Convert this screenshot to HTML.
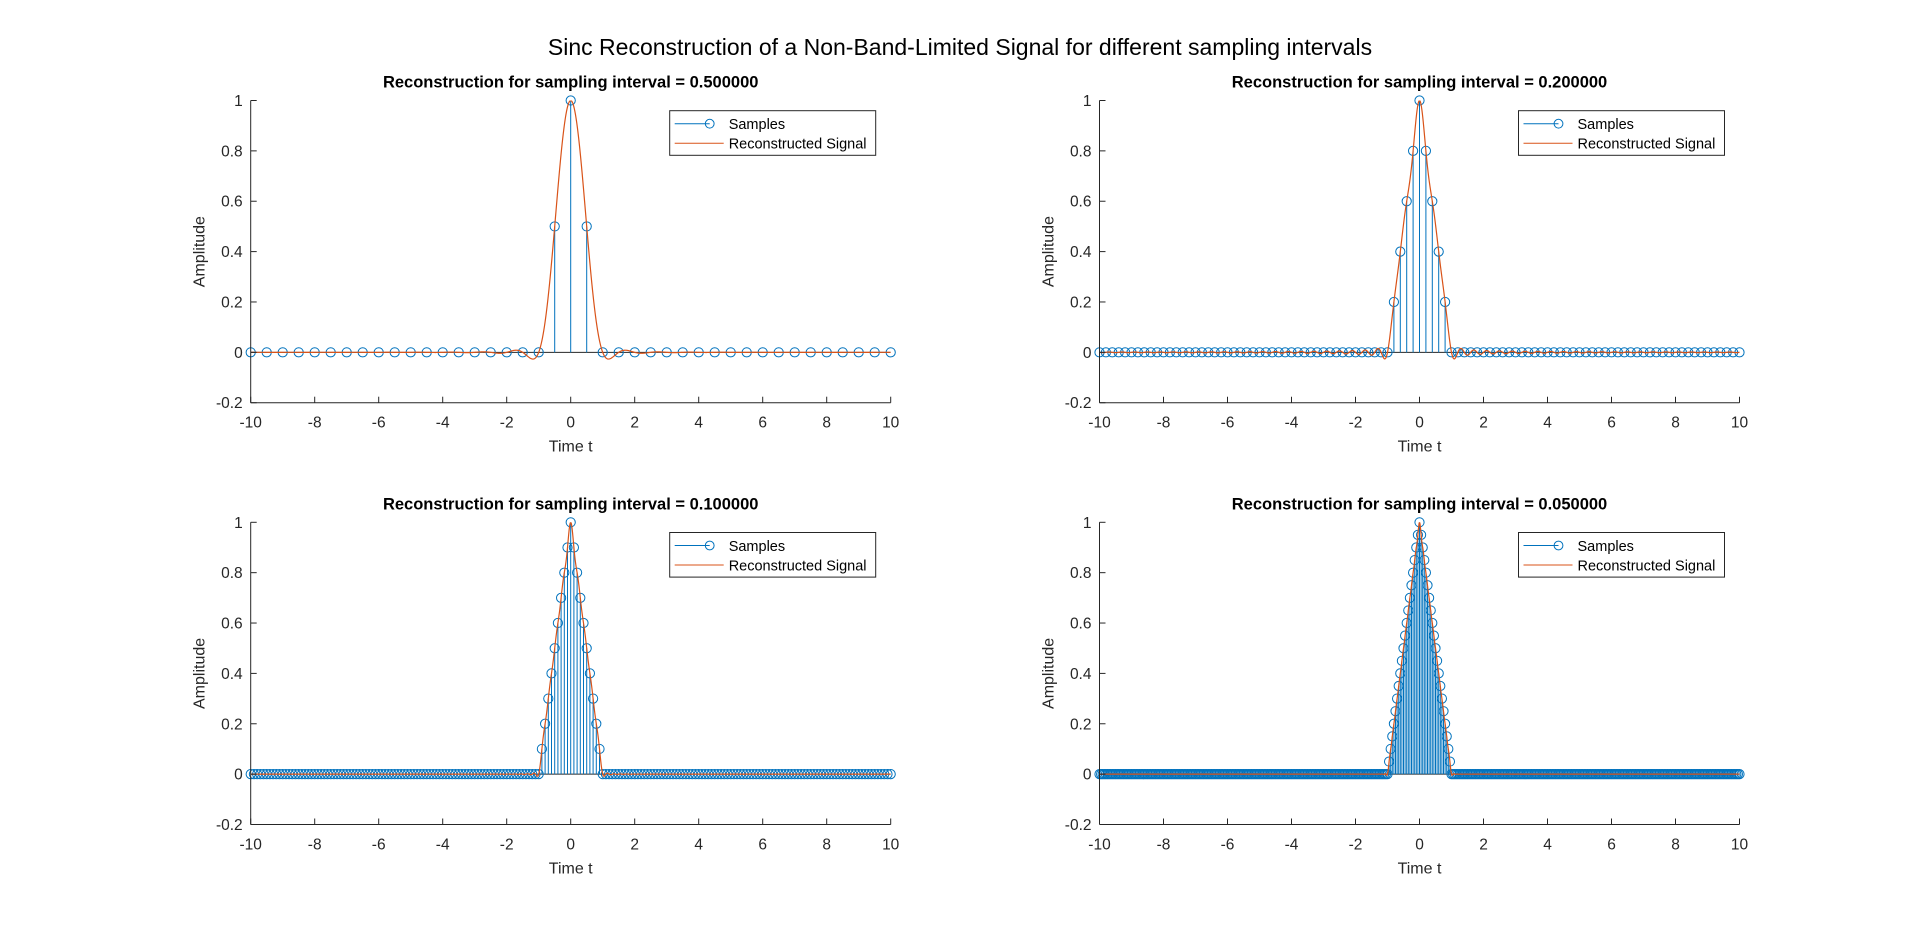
<!DOCTYPE html>
<html><head><meta charset="utf-8"><style>
html,body{margin:0;padding:0;background:#fff;}
svg{display:block;font-family:"Liberation Sans",Arial,sans-serif;}
</style></head><body>
<svg id="fig" width="1920" height="926" viewBox="0 0 1920 926">
<text x="960" y="55" text-anchor="middle" font-size="23" fill="#000">Sinc Reconstruction of a Non-Band-Limited Signal for different sampling intervals</text>
</svg>
<script>
// sampling intervals for each subplot
const intervals = [0.5, 0.2, 0.1, 0.05];
const intervalLabels = ["0.500000", "0.200000", "0.100000", "0.050000"];
// nonzero central samples (centred on t = 0); all other samples are zero
const samplesT05 = [0.5, 1, 0.5];
const samplesT02 = [0.2, 0.4, 0.6, 0.8, 1, 0.8, 0.6, 0.4, 0.2];
const samplesT01 = [0.1, 0.2, 0.3, 0.4, 0.5, 0.6, 0.7, 0.8, 0.9, 1, 0.9, 0.8, 0.7, 0.6, 0.5, 0.4, 0.3, 0.2, 0.1];
const samplesT005 = [0.05, 0.1, 0.15, 0.2, 0.25, 0.3, 0.35, 0.4, 0.45, 0.5, 0.55, 0.6, 0.65, 0.7, 0.75, 0.8, 0.85, 0.9, 0.95, 1, 0.95, 0.9, 0.85, 0.8, 0.75, 0.7, 0.65, 0.6, 0.55, 0.5, 0.45, 0.4, 0.35, 0.3, 0.25, 0.2, 0.15, 0.1, 0.05];
const xTicks = [-10, -8, -6, -4, -2, 0, 2, 4, 6, 8, 10];
const yTicks = [-0.2, 0, 0.2, 0.4, 0.6, 0.8, 1];
const yTickLabels = ["-0.2", "0", "0.2", "0.4", "0.6", "0.8", "1"];
const xRange = [-10, 10];
const yRange = [-0.2, 1];

const centralSets = [samplesT05, samplesT02, samplesT01, samplesT005];
const boxes = [
  {l: 250.7, t: 100.5, w: 640, h: 302.2},
  {l: 1099.5, t: 100.5, w: 640, h: 302.2},
  {l: 250.7, t: 522.3, w: 640, h: 302.2},
  {l: 1099.5, t: 522.3, w: 640, h: 302.2}
];
const NS = "http://www.w3.org/2000/svg";
const svg = document.getElementById('fig');
function mk(tag, attrs, parent) {
  const e = document.createElementNS(NS, tag);
  for (const k in attrs) e.setAttribute(k, attrs[k]);
  (parent || svg).appendChild(e);
  return e;
}
function sinc(x) { return x === 0 ? 1 : Math.sin(Math.PI * x) / (Math.PI * x); }

boxes.forEach((b, i) => {
  const T = intervals[i];
  const xs = v => b.l + (v - xRange[0]) / (xRange[1] - xRange[0]) * b.w;
  const ys = v => b.t + b.h - (v - yRange[0]) / (yRange[1] - yRange[0]) * b.h;
  const g = mk('g', {});
  
  
  const clipId = 'clip' + i;
  const cp = mk('clipPath', {id: clipId}, g);
  mk('rect', {x: b.l, y: b.t, width: b.w, height: b.h}, cp);

  const n = Math.round(10 / T);
  const central = centralSets[i];
  const half = (central.length - 1) / 2;
  const sampT = [], sampV = [];
  for (let k = -n; k <= n; k++) {
    const idx = k + half;
    sampT.push(k * T);
    sampV.push(idx >= 0 && idx < central.length ? central[idx] : 0);
  }
  const plot = mk('g', {'clip-path': 'url(#' + clipId + ')'}, g);
  const bl = mk('line', {x1: b.l, x2: b.l + b.w, y1: ys(0), y2: ys(0), stroke: '#262626', 'stroke-width': 1}, plot);
  
  
  const stems = mk('g', {stroke: '#0072BD', 'stroke-width': 1, fill: 'none'}, plot);
  
  
  sampT.forEach((t, j) => {
    if (sampV[j] !== 0) {
      const ln = mk('line', {x1: xs(t), x2: xs(t), y1: ys(0), y2: ys(sampV[j])}, stems);
      
      
    }
  });
  const markers = mk('g', {stroke: '#0072BD', 'stroke-width': 1, fill: 'none'}, g);
  
  
  sampT.forEach((t, j) => {
    const c = mk('circle', {cx: xs(t), cy: ys(sampV[j]), r: 4.6}, markers);
    
    
  });
  let d = '';
  const nz = [];
  sampT.forEach((t, j) => { if (sampV[j] !== 0) nz.push(j); });
  for (let q = 0; q <= 2000; q++) {
    const t = -10 + q * 0.01;
    let s = 0;
    nz.forEach(j => { s += sampV[j] * sinc((t - sampT[j]) / T); });
    d += (q ? 'L' : 'M') + xs(t).toFixed(2) + ' ' + ys(s).toFixed(2);
  }
  const plot2 = mk('g', {'clip-path': 'url(#' + clipId + ')'}, g);
  const rec = mk('path', {d: d, stroke: '#D95319', 'stroke-width': 1.2, fill: 'none'}, plot2);
  
  

  const ax = mk('g', {stroke: '#262626', 'stroke-width': 1}, g);
  
  
  mk('line', {x1: b.l, x2: b.l, y1: b.t, y2: b.t + b.h}, ax);
  mk('line', {x1: b.l, x2: b.l + b.w, y1: b.t + b.h, y2: b.t + b.h}, ax);
  xTicks.forEach(v => {
    mk('line', {x1: xs(v), x2: xs(v), y1: b.t + b.h, y2: b.t + b.h - 6}, ax);
    const tx = mk('text', {x: xs(v), y: b.t + b.h + 25, 'text-anchor': 'middle', 'font-size': 15.5, fill: '#262626', stroke: 'none'}, g);
    tx.textContent = String(v);
    
    
  });
  yTicks.forEach((v, k) => {
    mk('line', {x1: b.l, x2: b.l + 6, y1: ys(v), y2: ys(v)}, ax);
    const tx = mk('text', {x: b.l - 8, y: ys(v) + 5.5, 'text-anchor': 'end', 'font-size': 15.5, fill: '#262626', stroke: 'none'}, g);
    tx.textContent = yTickLabels[k];
    
    
  });
  const xl = mk('text', {x: b.l + b.w / 2, y: b.t + b.h + 49, 'text-anchor': 'middle', 'font-size': 16, fill: '#262626'}, g);
  xl.textContent = 'Time t';
  
  
  const yx = b.l - 46, yy = b.t + b.h / 2;
  const yl = mk('text', {x: yx, y: yy, 'text-anchor': 'middle', 'font-size': 16, fill: '#262626', transform: 'rotate(-90 ' + yx + ' ' + yy + ')'}, g);
  yl.textContent = 'Amplitude';
  
  
  const tl = mk('text', {x: b.l + b.w / 2, y: b.t - 13, 'text-anchor': 'middle', 'font-size': 16.5, 'font-weight': 'bold', fill: '#000'}, g);
  tl.textContent = 'Reconstruction for sampling interval = ' + intervalLabels[i];
  
  

  const lg = mk('g', {}, g);
  
  
  const lx = b.l + b.w - 15 - 206, ly = b.t + 10.2;
  mk('rect', {x: lx, y: ly, width: 206, height: 44.6, fill: '#fff', stroke: '#262626', 'stroke-width': 1}, lg);
  const e1 = mk('g', {}, lg);
  
  
  mk('line', {x1: lx + 5, x2: lx + 40, y1: ly + 13, y2: ly + 13, stroke: '#0072BD', 'stroke-width': 1}, e1);
  mk('circle', {cx: lx + 40, cy: ly + 13, r: 4.4, fill: 'none', stroke: '#0072BD', 'stroke-width': 1}, e1);
  const t1 = mk('text', {x: lx + 59, y: ly + 18.5, 'font-size': 14.5, fill: '#000'}, e1);
  t1.textContent = 'Samples';
  const e2 = mk('g', {}, lg);
  
  
  mk('line', {x1: lx + 5, x2: lx + 54, y1: ly + 32.5, y2: ly + 32.5, stroke: '#D95319', 'stroke-width': 1}, e2);
  const t2 = mk('text', {x: lx + 59, y: ly + 38, 'font-size': 14.5, fill: '#000'}, e2);
  t2.textContent = 'Reconstructed Signal';
});
</script>
</body></html>
